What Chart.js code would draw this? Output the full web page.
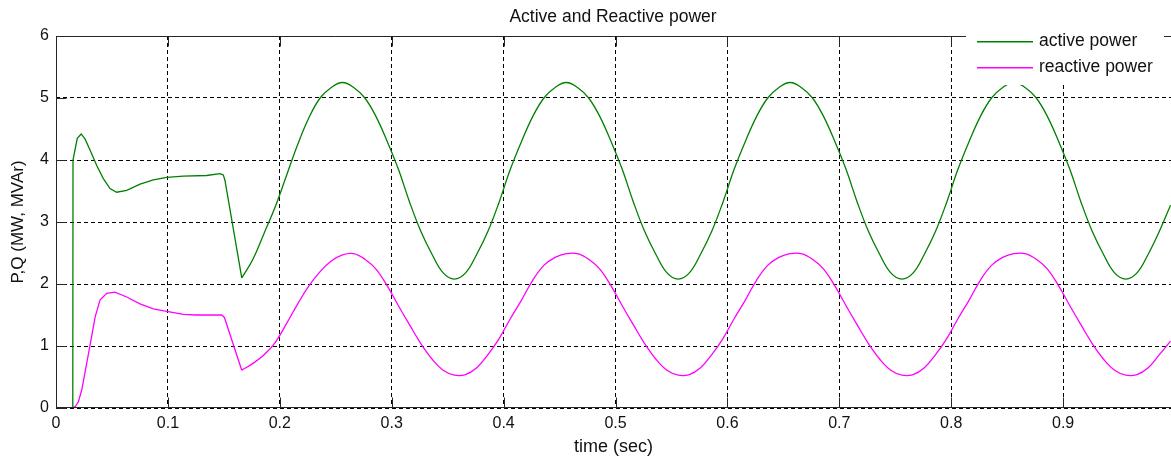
<!DOCTYPE html>
<html>
<head>
<meta charset="utf-8">
<title>Active and Reactive power</title>
<script src="https://cdn.jsdelivr.net/npm/chart.js@4.4.1/dist/chart.umd.min.js"></script>
<style>
    html, body { margin: 0; padding: 0; background: #fff; }
    #wrap { width: 1171px; height: 460px; }
</style>
</head>
<body>
<div id="wrap"><canvas id="powerChart" width="1171" height="460"></canvas></div>
<script>
(function () {
    'use strict';

    var chartTitle = 'Active and Reactive power';
    var xTitle = 'time (sec)';
    var yTitle = 'P,Q (MW, MVAr)';
    var seriesNames = ['active power', 'reactive power'];

    var xTicks = [0, 0.1, 0.2, 0.3, 0.4, 0.5, 0.6, 0.7, 0.8, 0.9];
    var xTickLabels = ['0', '0.1', '0.2', '0.3', '0.4', '0.5', '0.6', '0.7', '0.8', '0.9'];
    var yTicks = [0, 1, 2, 3, 4, 5, 6];
    var yTickLabels = ['0', '1', '2', '3', '4', '5', '6'];

    // start-up transient
    var activeStartTime = [0, 0.0150, 0.0152, 0.019, 0.0225, 0.0259, 0.0304, 0.0364, 0.0423, 0.0483,
        0.0542, 0.0632, 0.0751, 0.087, 0.099, 0.1138, 0.1346, 0.1466, 0.1495, 0.151, 0.166];
    var activeStart = [0, 0, 4.00, 4.35, 4.42, 4.34, 4.16, 3.91, 3.70, 3.54,
        3.48, 3.51, 3.61, 3.68, 3.72, 3.74, 3.75, 3.78, 3.76, 3.67, 2.10];

    var reactiveStartTime = [0, 0.015, 0.0175, 0.020, 0.023, 0.0304, 0.035, 0.0393, 0.0453, 0.0527,
        0.0632, 0.0751, 0.087, 0.099, 0.1138, 0.125, 0.148, 0.1505, 0.166];
    var reactiveStart = [0, 0, 0.03, 0.10, 0.29, 1.01, 1.47, 1.74, 1.85, 1.87,
        1.79, 1.68, 1.60, 1.56, 1.51, 1.50, 1.50, 1.46, 0.61];

    // oscillating part, sampled every 10 ms (starts at the 0.166 s dip)
    var steadyTime = [
        0.166, 0.176, 0.186, 0.196, 0.206, 0.216, 0.226, 0.236, 0.246, 0.256, 0.266,
        0.276, 0.286, 0.296, 0.306, 0.316, 0.326, 0.336, 0.346, 0.356, 0.366,
        0.376, 0.386, 0.396, 0.406, 0.416, 0.426, 0.436, 0.446, 0.456, 0.466,
        0.476, 0.486, 0.496, 0.506, 0.516, 0.526, 0.536, 0.546, 0.556, 0.566,
        0.576, 0.586, 0.596, 0.606, 0.616, 0.626, 0.636, 0.646, 0.656, 0.666,
        0.676, 0.686, 0.696, 0.706, 0.716, 0.726, 0.736, 0.746, 0.756, 0.766,
        0.776, 0.786, 0.796, 0.806, 0.816, 0.826, 0.836, 0.846, 0.856, 0.866,
        0.876, 0.886, 0.896, 0.906, 0.916, 0.926, 0.936, 0.946, 0.956, 0.966,
        0.976, 0.986, 0.996
    ];
    var activeSteady = [
        2.10, 2.40, 2.82, 3.25, 3.75, 4.25, 4.68, 5.00, 5.17, 5.25, 5.17,
        5.00, 4.70, 4.30, 3.85, 3.32, 2.85, 2.48, 2.18, 2.08, 2.18,
        2.48, 2.85, 3.32, 3.85, 4.30, 4.70, 5.00, 5.17, 5.25, 5.17,
        5.00, 4.70, 4.30, 3.85, 3.32, 2.85, 2.48, 2.18, 2.08, 2.18,
        2.48, 2.85, 3.32, 3.85, 4.30, 4.70, 5.00, 5.17, 5.25, 5.17,
        5.00, 4.70, 4.30, 3.85, 3.32, 2.85, 2.48, 2.18, 2.08, 2.18,
        2.48, 2.85, 3.32, 3.85, 4.30, 4.70, 5.00, 5.17, 5.25, 5.17,
        5.00, 4.70, 4.30, 3.85, 3.32, 2.85, 2.48, 2.18, 2.08, 2.18,
        2.48, 2.85, 3.27
    ];
    var reactiveSteady = [
        0.61, 0.72, 0.86, 1.06, 1.36, 1.68, 1.97, 2.20, 2.37, 2.47, 2.49,
        2.40, 2.24, 1.97, 1.65, 1.34, 1.04, 0.79, 0.61, 0.53, 0.54,
        0.65, 0.86, 1.12, 1.44, 1.74, 2.06, 2.30, 2.43, 2.49, 2.49,
        2.40, 2.24, 1.97, 1.65, 1.34, 1.04, 0.79, 0.61, 0.53, 0.54,
        0.65, 0.86, 1.12, 1.44, 1.74, 2.06, 2.30, 2.43, 2.49, 2.49,
        2.40, 2.24, 1.97, 1.65, 1.34, 1.04, 0.79, 0.61, 0.53, 0.54,
        0.65, 0.86, 1.12, 1.44, 1.74, 2.06, 2.30, 2.43, 2.49, 2.49,
        2.40, 2.24, 1.97, 1.65, 1.34, 1.04, 0.79, 0.61, 0.53, 0.54,
        0.65, 0.86, 1.08
    ];

    var activeColor = '#008000';
    var reactiveColor = '#ff00ff';
    var fontFamily = "'Liberation Sans', Arial, sans-serif";
    var inkColor = '#111';

    function toPoints(times, values) {
        return times.map(function (t, i) { return { x: t, y: values[i] }; });
    }

    function lineSet(label, times, values, color, smooth) {
        return {
            label: label,
            data: toPoints(times, values),
            borderColor: color,
            backgroundColor: color,
            borderWidth: 1.3,
            showLine: true,
            pointRadius: 0,
            tension: smooth ? 0.4 : 0
        };
    }

    /** MATLAB-like box, inward ticks, title and opaque legend */
    var matlabAxes = {
        id: 'matlabAxes',
        afterDatasetsDraw: function (chart) {
            var ctx = chart.ctx;
            var a = chart.chartArea;
            var xs = chart.scales.x, ys = chart.scales.y;
            var L = Math.round(a.left) + 0.5;
            var T = Math.round(a.top) + 0.5;
            var B = Math.round(a.bottom) - 0.5;
            var R = a.right;
            ctx.save();
            ctx.strokeStyle = '#262626';
            ctx.lineWidth = 1;
            ctx.setLineDash([]);
            ctx.beginPath();
            ctx.moveTo(R, T); ctx.lineTo(L, T); ctx.lineTo(L, B); ctx.lineTo(R, B);
            xTicks.forEach(function (v) {
                var px = Math.round(xs.getPixelForValue(v)) + 0.5;
                ctx.moveTo(px, B); ctx.lineTo(px, B - 10);
                ctx.moveTo(px, T); ctx.lineTo(px, T + 10);
            });
            yTicks.forEach(function (v) {
                var py = Math.round(ys.getPixelForValue(v)) + 0.5;
                ctx.moveTo(L, py); ctx.lineTo(L + 10, py);
            });
            ctx.stroke();
            ctx.restore();
        },
        afterDraw: function (chart) {
            var ctx = chart.ctx;
            ctx.save();
            // title, centred over the full (cropped) axes
            ctx.fillStyle = inkColor;
            ctx.font = '17.5px ' + fontFamily;
            ctx.textAlign = 'center';
            ctx.textBaseline = 'middle';
            ctx.fillText(chartTitle, 613, 17);

            // legend box covers the curves below it
            ctx.fillStyle = '#ffffff';
            ctx.fillRect(966, 30, 198, 55);
            var rows = [
                { name: seriesNames[0], color: activeColor, y: 41 },
                { name: seriesNames[1], color: reactiveColor, y: 67 }
            ];
            ctx.textAlign = 'left';
            rows.forEach(function (r) {
                ctx.fillStyle = r.color;
                ctx.fillRect(977, r.y, 56, 1.5);
                ctx.fillStyle = inkColor;
                ctx.fillText(r.name, 1039, r.y);
            });
            ctx.restore();
        }
    };

    var ctx = document.getElementById('powerChart').getContext('2d');
    new Chart(ctx, {
        type: 'scatter',
        data: {
            datasets: [
                lineSet(seriesNames[0], activeStartTime, activeStart, activeColor, false),
                lineSet(seriesNames[0], steadyTime, activeSteady, activeColor, true),
                lineSet(seriesNames[1], reactiveStartTime, reactiveStart, reactiveColor, false),
                lineSet(seriesNames[1], steadyTime, reactiveSteady, reactiveColor, true)
            ]
        },
        options: {
            responsive: false,
            devicePixelRatio: 1,
            animation: false,
            layout: { padding: { top: 36, left: 0, right: 0, bottom: 0 } },
            plugins: {
                legend: { display: false },
                tooltip: { enabled: false },
                title: { display: false }
            },
            scales: {
                x: {
                    type: 'linear',
                    min: 0,
                    max: 0.9964,
                    afterBuildTicks: function (axis) {
                        axis.ticks = xTicks.map(function (v) { return { value: v }; });
                    },
                    afterFit: function (axis) { axis.height = 52; },
                    grid: { color: '#000', lineWidth: 1, drawTicks: false },
                    border: { display: false, dash: [4, 3] },
                    ticks: {
                        padding: 6,
                        color: inkColor,
                        font: { family: fontFamily, size: 16 },
                        maxRotation: 0,
                        autoSkip: false,
                        callback: function (value, index) { return xTickLabels[index]; }
                    },
                    title: {
                        display: true,
                        text: xTitle,
                        color: inkColor,
                        font: { family: fontFamily, size: 18 },
                        padding: { top: 0, bottom: 2 }
                    }
                },
                y: {
                    type: 'linear',
                    min: 0,
                    max: 6,
                    afterBuildTicks: function (axis) {
                        axis.ticks = yTicks.map(function (v) { return { value: v }; });
                    },
                    afterFit: function (axis) { axis.width = 56; },
                    grid: { color: '#000', lineWidth: 1, drawTicks: false },
                    border: { display: false, dash: [4, 3] },
                    ticks: {
                        padding: 7,
                        color: inkColor,
                        font: { family: fontFamily, size: 16 },
                        autoSkip: false,
                        callback: function (value, index) { return yTickLabels[index]; }
                    },
                    title: {
                        display: true,
                        text: yTitle,
                        color: inkColor,
                        font: { family: fontFamily, size: 17 },
                        padding: { top: 8, bottom: 0 }
                    }
                }
            }
        },
        plugins: [matlabAxes]
    });
})();
</script>
</body>
</html>
